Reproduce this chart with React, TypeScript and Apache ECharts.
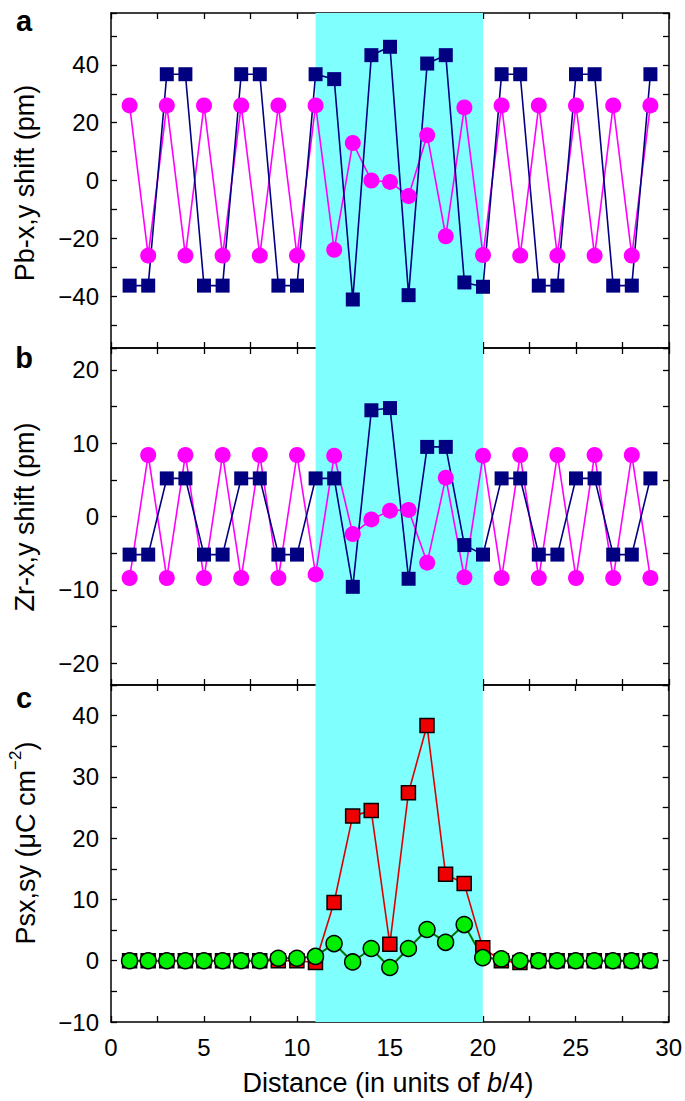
import React, { useEffect, useRef } from "react";
import * as echarts from "echarts";

const distance = [1, 2, 3, 4, 5, 6, 7, 8, 9, 10, 11, 12, 13, 14, 15, 16, 17, 18, 19, 20, 21, 22, 23, 24, 25, 26, 27, 28, 29];

// Panel a: Pb shifts (pm)
const pbMagenta = [26, -26, 26, -26, 26, -26, 26, -26, 26, -26, 26, -24, 13, 0, -0.5, -5.4, 15.7, -19.3, 25.3, -25.8, 26, -26, 26, -26, 26, -26, 26, -26, 26];
const pbNavy = [-36.4, -36.4, 36.8, 36.8, -36.4, -36.4, 36.8, 36.8, -36.4, -36.4, 36.8, 35.1, -41.2, 43.4, 46.3, -39.7, 40.5, 43.4, -35.3, -36.8, 36.8, 36.8, -36.4, -36.4, 36.8, 36.8, -36.4, -36.4, 36.8];

// Panel b: Zr shifts (pm)
const zrMagenta = [-8.4, 8.4, -8.4, 8.4, -8.4, 8.4, -8.4, 8.4, -8.4, 8.4, -7.9, 8.3, -2.4, -0.4, 0.8, 0.9, -6.3, 5.3, -8.3, 8.3, -8.4, 8.4, -8.4, 8.4, -8.4, 8.4, -8.4, 8.4, -8.4];
const zrNavy = [-5.2, -5.2, 5.2, 5.2, -5.2, -5.2, 5.2, 5.2, -5.2, -5.2, 5.2, 5.2, -9.6, 14.5, 14.8, -8.5, 9.5, 9.5, -3.9, -5.2, 5.2, 5.2, -5.2, -5.2, 5.2, 5.2, -5.2, -5.2, 5.2];

// Panel c: polarization (uC cm^-2)
const psRed = [0, 0, 0, 0, 0, 0, 0, 0, 0, 0, -0.3, 9.5, 23.6, 24.5, 2.7, 27.4, 38.4, 14.1, 12.6, 2.1, 0, -0.3, 0, 0, 0, 0, 0, 0, 0];
const psGreen = [0, 0, 0, 0, 0, 0, 0, 0, 0.4, 0.4, 0.7, 2.8, -0.2, 2.0, -1.1, 2.0, 5.1, 3.0, 5.9, 0.5, 0.3, 0, 0, 0, 0, 0, 0, 0, 0];

const bandStart = 11;
const bandEnd = 20;

const panelLetters = ["a", "b", "c"];
const yTitles = ["Pb-x,y shift (pm)", "Zr-x,y shift (pm)"];

const FONT = '"Liberation Sans", Arial, Helvetica, sans-serif';

const fmtEvery = (step: number) => (v: number) =>
  Math.abs(Math.round(v / step) * step - v) < 1e-9 ? String(Math.round(v)).replace("-", "\u2212") : "";

const pairs = (ys: number[]) => distance.map((d, i) => [d, ys[i]]);

export default function App() {
  const ref = useRef<HTMLDivElement>(null);

  useEffect(() => {
    if (!ref.current) return;
    const chart = echarts.init(ref.current, null, { renderer: "svg" });

    const L = 111;
    const R = 685 - 669;
    const grids = [
      { left: L, right: R, top: 13, height: 335 },
      { left: L, right: R, top: 348, height: 337 },
      { left: L, right: R, top: 685, height: 337 },
    ];

    const axisLine = { show: true, onZero: false, lineStyle: { color: "#000", width: 1.5 } };
    const tick = { show: true, inside: true, length: 6, lineStyle: { color: "#000", width: 1.3 } };

    const xAxes: any[] = [];
    grids.forEach((_, gi) => {
      ["bottom", "top"].forEach((pos) => {
        xAxes.push({
          type: "value",
          gridIndex: gi,
          position: pos,
          min: 0,
          max: 30,
          interval: 2.5,
          axisLine,
          axisTick: tick,
          splitLine: { show: false },
          axisLabel: {
            show: gi === 2 && pos === "bottom",
            formatter: fmtEvery(5),
            fontFamily: FONT,
            fontSize: 24,
            color: "#000",
            margin: 13,
          },
        });
      });
    });

    const yRanges = [
      { min: -58, max: 58, splitNumber: 12, label: 20 },
      { min: -23, max: 23, splitNumber: 9, label: 10 },
      { min: -10, max: 45, interval: 5, label: 10 },
    ];
    const yAxes: any[] = [];
    yRanges.forEach((r, gi) => {
      ["left", "right"].forEach((pos) => {
        const ax: any = {
          type: "value",
          gridIndex: gi,
          position: pos,
          min: r.min,
          max: r.max,
          axisLine,
          axisTick: tick,
          splitLine: { show: false },
          axisLabel: {
            show: pos === "left",
            formatter: fmtEvery(r.label),
            fontFamily: FONT,
            fontSize: 24,
            color: "#000",
            margin: 12,
          },
        };
        if (r.interval) ax.interval = r.interval;
        else ax.splitNumber = r.splitNumber;
        yAxes.push(ax);
      });
    });

    const bandSeries = (gi: number) => ({
      type: "line",
      xAxisIndex: gi * 2,
      yAxisIndex: gi * 2,
      data: [],
      silent: true,
      z: 0,
      markArea: {
        silent: true,
        itemStyle: { color: "#80ffff", opacity: 1 },
        data: [[{ xAxis: bandStart }, { xAxis: bandEnd }]],
      },
    });

    const lineSeries = (gi: number, ys: number[], symbol: string, color: string, lineColor: string, size: number, border?: boolean, lw = 1.6) => ({
      type: "line",
      xAxisIndex: gi * 2,
      yAxisIndex: gi * 2,
      data: pairs(ys),
      symbol,
      symbolSize: size,
      showAllSymbol: true,
      z: 3,
      lineStyle: { color: lineColor, width: lw },
      itemStyle: border
        ? { color, borderColor: "#000", borderWidth: 1.5 }
        : { color, borderWidth: 0 },
    });

    const titleStyle = { fontFamily: FONT, fontSize: 27, fill: "#000" };

    const graphic: any[] = [];
    [21, 358, 698].forEach((y, i) => {
      graphic.push({
        type: "text",
        x: 24,
        y,
        style: { text: panelLetters[i], fontFamily: FONT, fontWeight: "bold", fontSize: 29, fill: "#000", align: "center", verticalAlign: "middle" },
      });
    });
    [183, 517].forEach((y, i) => {
      graphic.push({
        type: "text",
        x: 25,
        y,
        rotation: Math.PI / 2,
        style: { ...titleStyle, text: yTitles[i], align: "center", verticalAlign: "middle" },
      });
    });
    graphic.push({
      type: "text",
      x: 23,
      y: 843,
      rotation: Math.PI / 2,
      style: {
        text: "{n|Psx,sy (\u03bcC cm}{s|\u22122}{n|)}",
        align: "center",
        verticalAlign: "middle",
        rich: {
          n: { fontFamily: FONT, fontSize: 27, fill: "#000", verticalAlign: "bottom", lineHeight: 32 },
          s: { fontFamily: FONT, fontSize: 17, fill: "#000", verticalAlign: "top", lineHeight: 32 },
        },
      },
    });
    graphic.push({
      type: "text",
      x: 388,
      y: 1083,
      style: {
        text: "{n|Distance (in units of }{i|b}{n|/4)}",
        align: "center",
        verticalAlign: "middle",
        rich: {
          n: { fontFamily: FONT, fontSize: 27, fill: "#000" },
          i: { fontFamily: FONT, fontSize: 27, fontStyle: "italic", fill: "#000" },
        },
      },
    });

    chart.setOption({
      animation: false,
      backgroundColor: "#fff",
      grid: grids,
      xAxis: xAxes,
      yAxis: yAxes,
      graphic,
      series: [
        bandSeries(0),
        bandSeries(1),
        bandSeries(2),
        lineSeries(0, pbMagenta, "circle", "#ff00ff", "#ff00ff", 16),
        lineSeries(0, pbNavy, "rect", "#000080", "#000080", 14),
        lineSeries(1, zrMagenta, "circle", "#ff00ff", "#ff00ff", 16),
        lineSeries(1, zrNavy, "rect", "#000080", "#000080", 14),
        lineSeries(2, psRed, "rect", "#ee0000", "#dd0000", 14, true),
        lineSeries(2, psGreen, "circle", "#00ee00", "#007700", 16, true, 2),
      ],
    });

    return () => chart.dispose();
  }, []);

  return <div ref={ref} style={{ position: "fixed", left: 0, top: 0, width: 685, height: 1101 }} />;
}
